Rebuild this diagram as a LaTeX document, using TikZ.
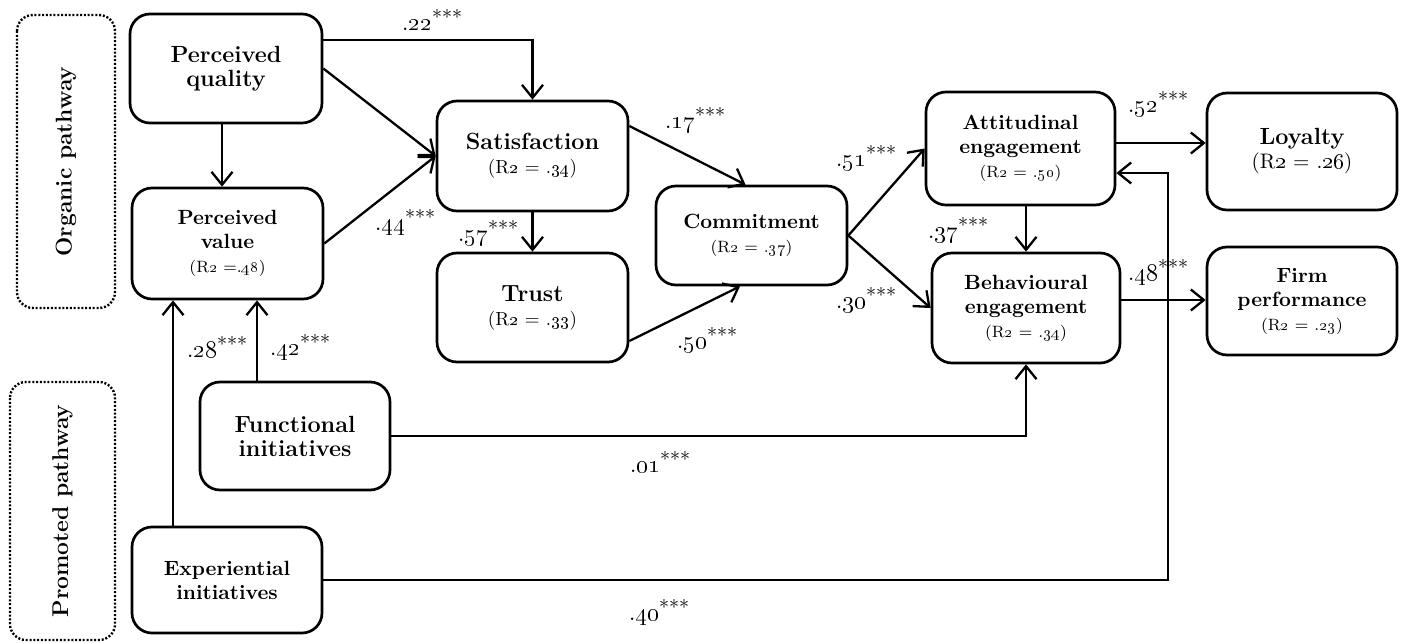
\documentclass[tikz,border=0pt]{standalone}
\usetikzlibrary{arrows.meta,calc}
\newcommand{\bigT}{\fontsize{11.7}{14.5}\selectfont\bfseries}
\newcommand{\smT}{\fontsize{10.3}{12.5}\selectfont\bfseries}
\newcommand{\smR}{\fontsize{8.2}{12}\selectfont\mdseries}
\newcommand{\midR}{\fontsize{9.5}{13}\selectfont\mdseries}
\newcommand{\bigR}{\fontsize{10.5}{13}\selectfont\mdseries}
\newcommand{\coef}[1]{.\oldstylenums{#1}\raisebox{0.55ex}{\fontsize{10}{10}\selectfont ***}}
\newcommand{\rsq}[1]{(R\oldstylenums{2} = .\oldstylenums{#1})}
\begin{document}
\begin{tikzpicture}[x=0.5pt,y=-0.5pt,
  box/.style={draw, line width=1.35pt, rounded corners=10pt, align=center, inner sep=0pt},
  pathbox/.style={draw, line width=1.2pt, dash pattern=on 1pt off 0.9pt, rounded corners=8pt, rotate=90, inner sep=0pt, font=\fontsize{11.4}{13}\selectfont\bfseries},
  arr/.style={line width=1.15pt, -{Straight Barb[length=6.5pt,width=10.5pt,line width=1.15pt]}},
  coeflab/.style={font=\fontsize{12.5}{14}\selectfont, inner sep=0pt}]
\fill[white] (0,0) rectangle (1406,642);
\useasboundingbox (0,0) rectangle (1406,642);

% pathway frames
\node[pathbox, minimum width=146.5pt, minimum height=49pt] (org) at (66,161.5) {Organic pathway};
\node[pathbox, minimum width=129pt, minimum height=52.5pt] (pro) at (62.5,511) {Promoted pathway};

% construct boxes
\node[box, minimum width=96pt, minimum height=54.5pt] (pq) at (226,68.5) {\bigT Perceived\\\bigT quality};
\node[box, minimum width=95.5pt, minimum height=55.5pt] (pv) at (227.5,243.5) {\smT Perceived\\\smT value\\\smR (R\oldstylenums{2} =.\oldstylenums{48})};
\node[box, minimum width=95.5pt, minimum height=55pt] (sat) at (532.5,156) {\bigT Satisfaction\\\midR \rsq{34}};
\node[box, minimum width=95.5pt, minimum height=54.5pt] (trust) at (532.5,307.5) {\bigT Trust\\\midR \rsq{33}};
\node[box, minimum width=95.5pt, minimum height=49.5pt] (com) at (751.5,235.5) {\smT Commitment\\\smR \rsq{37}};
\node[box, minimum width=94.5pt, minimum height=56.5pt] (att) at (1020.5,148.5) {\smT Attitudinal\\\smT engagement\\\smR \rsq{50}};
\node[box, minimum width=94pt, minimum height=55pt] (beh) at (1026,308) {\smT Behavioural\\\smT engagement\\\smR \rsq{34}};
\node[box, minimum width=95pt, minimum height=58.5pt] (loy) at (1302,151.5) {\bigT Loyalty\\\bigR \rsq{26}};
\node[box, minimum width=95pt, minimum height=54pt] (firm) at (1302,301) {\smT Firm\\\smT performance\\\smR \rsq{23}};
\node[box, minimum width=95pt, minimum height=54pt] (fun) at (295,436) {\bigT Functional\\\bigT initiatives};
\node[box, minimum width=95pt, minimum height=53pt] (exp) at (227,580) {\smT Experiential\\\smT initiatives};

\coordinate (bend) at (1168,0);
\coordinate (attin) at ([yshift=-12.25pt]att.east);

% connectors
\draw[arr] ([yshift=14.25pt]pq.east) -| (sat.north);
\draw[arr] (pq.east) -- (sat.west);
\draw[arr] ([xshift=-2pt]pq.south) -- ([xshift=-2pt]pq.south |- pv.north);
\draw[arr] (pv.east) -- (sat.west);
\draw[arr] (sat.south) -- (trust.north);
\draw[arr] ([yshift=15pt]sat.east) -- ([xshift=-3pt]com.north);
\draw[arr] ([yshift=-16.75pt]trust.east) -- ([xshift=-5.75pt]com.south);
\draw[arr] (com.east) -- (att.west);
\draw[arr] (com.east) -- (beh.west);
\draw[arr] (att.south -| beh.north) -- (beh.north);
\draw[arr] ([yshift=2.75pt]att.east) -- ([yshift=2.75pt]att.east -| loy.west);
\draw[arr] ([yshift=4pt]beh.east) -- ([yshift=4pt]beh.east -| firm.west);
\draw[arr] (exp.east) -- (exp.east -| bend) -- (bend |- attin) -- (attin);
\draw[arr] (fun.east) -| (beh.south);
\draw[arr] ([xshift=-19pt]fun.north) -- ([xshift=-19pt]fun.north |- pv.south);
\draw[arr] ([xshift=-27pt]exp.north) -- ([xshift=-27pt]exp.north |- pv.south);

% coefficients
\node[coeflab] (c22) at (432,20) {\coef{22}};
\node[coeflab] (c44) at (405,222) {\coef{44}};
\node[coeflab] (c57) at (488,233) {\coef{57}};
\node[coeflab] (c17) at (695,120) {\coef{17}};
\node[coeflab] (c50) at (707,340) {\coef{50}};
\node[coeflab] (c51) at (866,158) {\coef{51}};
\node[coeflab] (c30) at (866,300) {\coef{30}};
\node[coeflab] (c37) at (958,230) {\coef{37}};
\node[coeflab] (c52) at (1158,104) {\coef{52}};
\node[coeflab] (c48) at (1158,272) {\coef{48}};
\node[coeflab] (c28) at (217,347) {\coef{28}};
\node[coeflab] (c42) at (300,347) {\coef{42}};
\node[coeflab] (c01) at (660,462) {\coef{01}};
\node[coeflab] (c40) at (659,612) {\coef{40}};
\end{tikzpicture}
\end{document}
